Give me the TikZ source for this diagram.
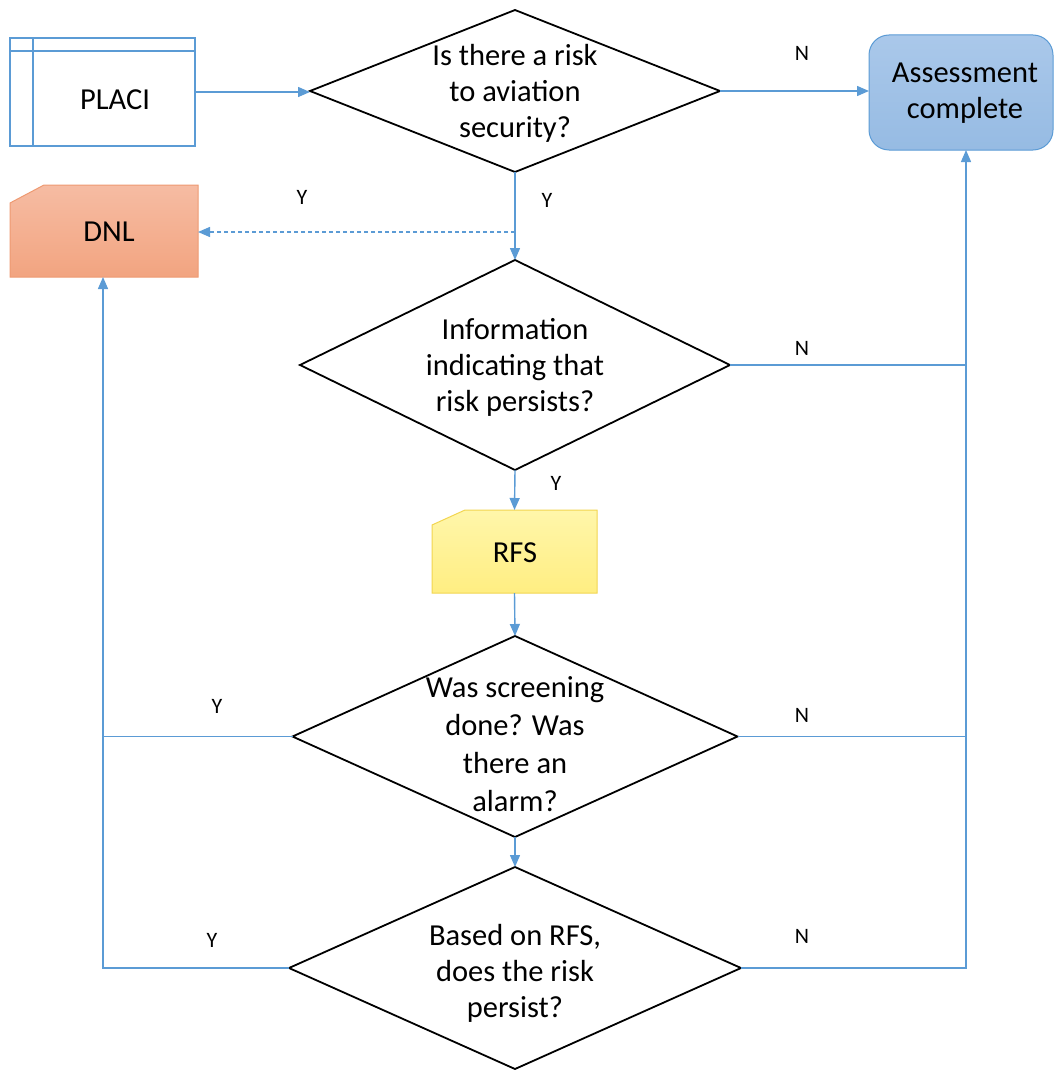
\documentclass[tikz,border=0pt]{standalone}
\usepackage{fontspec}
\setmainfont{Carlito}
\usetikzlibrary{arrows.meta,shapes.geometric}
\definecolor{flowblue}{HTML}{5B9BD5}
\definecolor{assesstop}{HTML}{AAC8EA}
\definecolor{assessbot}{HTML}{96BBE3}
\definecolor{dnltop}{HTML}{F6BCA3}
\definecolor{dnlbot}{HTML}{F2A480}
\definecolor{dnledge}{HTML}{EE9A72}
\definecolor{rfstop}{HTML}{FFF6AA}
\definecolor{rfsbot}{HTML}{FFEE82}
\definecolor{rfsedge}{HTML}{F2D550}
\tikzset{
  flow/.style={draw=flowblue, line width=1.4pt},
  arr/.style={flow, -{Triangle[length=12pt,width=10pt]}},
  decision/.style={diamond, draw=black, line width=1.8pt, inner sep=0pt, outer sep=0pt},
  qtext/.style={align=center, font=\fontsize{30.5}{36}\selectfont, inner sep=0pt},
  yn/.style={font=\fontsize{22}{24}\selectfont},
  frame/.style={inner sep=0pt, outer sep=0pt},
  card/.style={line width=1pt},
}
\begin{document}
\begin{tikzpicture}[x=1pt,y=-1pt]
\useasboundingbox (0,0) rectangle (1053,1070);

% data source
\node[frame, draw=flowblue, line width=1.4pt, minimum width=185pt, minimum height=108pt] (placi) at (102.5,92) {};
\draw[flow] ([yshift=-13pt]placi.north west) -- ([yshift=-13pt]placi.north east);
\draw[flow] ([xshift=23pt]placi.north west) -- ([xshift=23pt]placi.south west);
\node[qtext] (placitext) at (115,100) {PLACI};

% terminal
\node[frame, rounded corners=20pt, draw=flowblue, line width=1pt, top color=assesstop,
      bottom color=assessbot, minimum width=184pt, minimum height=115pt] (assess) at (961,92.5) {};
\node[qtext] (assesstext) at (965,93) {Assessment\\complete};

% outcome cards with a snipped top-left corner
\node[frame, minimum width=188pt, minimum height=92pt] (dnl) at (104,231) {};
\draw[card, draw=dnledge, top color=dnltop, bottom color=dnlbot]
  ([yshift=-18pt]dnl.north west) -- ([xshift=34pt]dnl.north west) -- (dnl.north east)
  -- (dnl.south east) -- (dnl.south west) -- cycle;
\node[qtext] (dnltext) at (109,232) {DNL};

\node[frame, minimum width=165pt, minimum height=83pt] (rfs) at (514.5,551.5) {};
\draw[card, draw=rfsedge, top color=rfstop, bottom color=rfsbot]
  ([yshift=-15pt]rfs.north west) -- ([xshift=33pt]rfs.north west) -- (rfs.north east)
  -- (rfs.south east) -- (rfs.south west) -- cycle;
\node[qtext] (rfstext) at (515,553) {RFS};

% decisions
\node[decision, minimum width=410pt, minimum height=162pt] (d1) at (515,91) {};
\node[qtext] (t1) at (515,93) {Is there a risk\\to aviation\\security?};
\node[decision, minimum width=430pt, minimum height=210pt] (d2) at (515,365) {};
\node[qtext] (t2) at (515,367) {Information\\indicating that\\risk persists?};
\node[decision, minimum width=445pt, minimum height=201pt] (d3) at (515,736.5) {};
\node[qtext, font=\fontsize{30.5}{38}\selectfont] (t3) at (515,744) {Was screening\\done? Was\\there an\\alarm?};
\node[decision, minimum width=452pt, minimum height=202pt] (d4) at (515,968) {};
\node[qtext] (t4) at (515,973) {Based on RFS,\\does the risk\\persist?};

% trunk corners
\coordinate (split) at (515,232);
\coordinate (rtrunk) at (966,968);
\coordinate (ltrunk) at (103,968);

% connectors
\draw[arr] (placi.east) -- (placi.east -| d1.west);
\draw[arr] (d1.east) -- (d1.east -| assess.west);
\draw[arr] (d1.south) -- (d2.north);
\draw[arr, dash pattern=on 4pt off 3pt] (split) -- (split -| dnl.east);
\draw[arr] (d2.south) -- (rfs.north);
\draw[arr] (rfs.south) -- (d3.north);
\draw[arr] (d3.south) -- (d4.north);
\draw[flow] (d2.east) -- (d2.east -| rtrunk);
\draw[flow] (d3.east) -- (d3.east -| rtrunk);
\draw[arr] (d4.east) -- (rtrunk) -- (rtrunk |- assess.south);
\draw[flow] (d3.west) -- (d3.west -| ltrunk);
\draw[arr] (d4.west) -- (ltrunk) -- (ltrunk |- dnl.south);

% branch labels
\node[yn] (n1) at (802,53) {N};
\node[yn] (y1) at (547,200) {Y};
\node[yn] (y0) at (302,197) {Y};
\node[yn] (n2) at (802,348) {N};
\node[yn] (y2) at (556,483) {Y};
\node[yn] (y3) at (217,706) {Y};
\node[yn] (n3) at (802,715) {N};
\node[yn] (y4) at (212,940) {Y};
\node[yn] (n4) at (802,936) {N};
\end{tikzpicture}
\end{document}
